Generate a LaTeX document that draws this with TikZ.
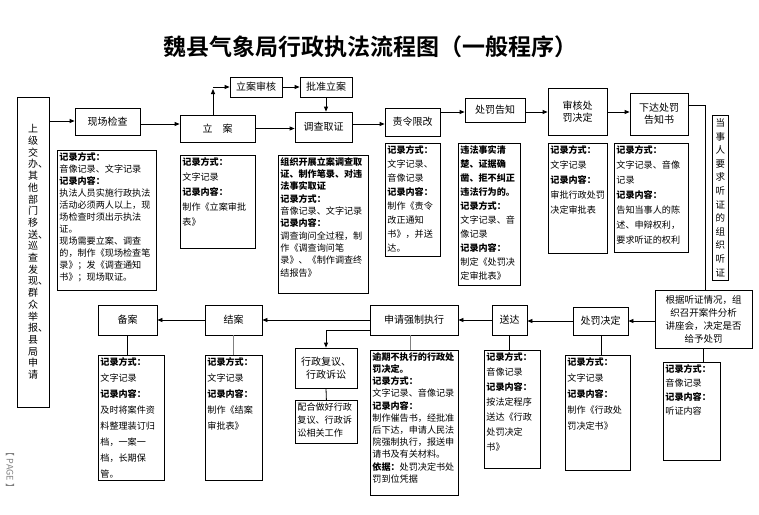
\documentclass[tikz,border=0pt]{standalone}
\usepackage{fontspec}
\setmainfont{Noto Sans CJK SC}
\newfontfamily\titlefont{Noto Sans CJK SC Bold}
\XeTeXlinebreaklocale "zh"
\XeTeXlinebreakskip=0pt plus 1pt
\usetikzlibrary{arrows.meta}
\tikzset{
  bx/.style={draw,thick,inner sep=1pt,align=center,font=\fontsize{10}{12.5}\selectfont},
  rc/.style={draw,thick,inner sep=2pt,anchor=north west},
  arr/.style={thick,-{Triangle[length=5pt,width=4pt]}},
  ln/.style={thick}
}
\newcommand\bx[6]{\node[bx,minimum width=#4pt,minimum height=#5pt] (#1) at ({#2+#4/2},{-#3-#5/2}) {#6};}
\newcommand\rc[7]{\node[rc] (#1) at (#2,-#3) {\fontsize{9.1}{#6}\selectfont\parbox[t][\dimexpr#5pt-4pt][t]{\dimexpr#4pt-4pt}{\raggedright #7}};}
\begin{document}
\begin{tikzpicture}[x=1pt,y=1pt]
\useasboundingbox (0,0) rectangle (759,-514);
\node[font=\titlefont\fontsize{23}{26}\selectfont] (title) at (370,-47) {魏县气象局行政执法流程图（一般程序）};
\node[bx,minimum width=32pt,minimum height=310pt,text width=10pt,font=\fontsize{10}{11.7}\selectfont] (src) at (33,-252) {上级交办、其他部门移送、巡查发现、群众举报、县局申请};
\bx{xc}{75}{108}{65}{27}{现场检查}
\bx{la}{180}{115}{75}{27}{立\quad 案}
\bx{lash}{230}{77}{52}{20}{立案审核}
\bx{pz}{300}{77}{52}{20}{批准立案}
\bx{dc}{295}{112}{57}{30}{调查取证}
\bx{zl}{385}{108}{55}{28}{责令限改}
\bx{gz}{465}{98}{60}{24}{处罚告知}
\bx{sh}{548}{88}{59}{47}{审核处\\罚决定}
\bx{xd}{630}{93}{58}{42}{下达处罚\\告知书}
\node[bx,minimum width=16pt,minimum height=165pt,text width=9pt,font=\fontsize{9.5}{13.6}\selectfont] (tz) at (720,-197.5) {当事人要求听证的组织听证};
\node[bx,minimum width=97pt,minimum height=58pt,font=\fontsize{9.5}{13}\selectfont] (gj) at (703.5,-319) {根据听证情况，组\\织召开案件分析\\讲座会，决定是否\\给予处罚};
\bx{cf}{573}{307}{55}{28}{处罚决定}
\bx{sd}{492}{305}{35}{30}{送达}
\bx{sq}{370}{305}{88}{30}{申请强制执行}
\bx{ja}{205}{305}{57}{30}{结案}
\bx{ba}{98}{305}{59}{30}{备案}
\bx{fy}{295}{348}{62}{40}{行政复议、\\行政诉讼}
\rc{r1}{57}{150}{99}{140}{12}{\textbf{记录方式：}\\音像记录、文字记录\\\textbf{记录内容：}\\执法人员实施行政执法活动必须两人以上，现场检查时须出示执法证。\\现场需要立案、调查的，制作《现场检查笔录》；发《调查通知书》；现场取证。}
\rc{r2}{180}{155}{75}{93}{15}{\textbf{记录方式：}\\文字记录\\\textbf{记录内容：}\\制作《立案审批表》}
\rc{r3}{278}{155}{90}{138}{12.3}{\textbf{组织开展立案调查取证、制作笔录、对违法事实取证}\\\textbf{记录方式：}\\音像记录、文字记录\\\textbf{记录内容：}\\调查询问全过程，制作《调查询问笔录》、《制作调查终结报告》}
\rc{r4}{385}{143}{55}{113}{14}{\textbf{记录方式：}\\文字记录、音像记录\\\textbf{记录内容：}\\制作《责令改正通知书》，并送达。}
\rc{r5}{458}{143}{62}{142}{14}{\textbf{违法事实清楚、证据确凿、拒不纠正违法行为的。}\\\textbf{记录方式：}\\文字记录、音像记录\\\textbf{记录内容：}\\制定《处罚决定审批表》}
\rc{r6}{548}{143}{59}{110}{15}{\textbf{记录方式：}\\文字记录\\\textbf{记录内容：}\\审批行政处罚决定审批表}
\rc{r7}{614}{143}{74}{109}{15}{\textbf{记录方式：}\\文字记录、音像记录\\\textbf{记录内容：}\\告知当事人的陈述、申辩权利，要求听证的权利}
\rc{r8}{98}{355}{66}{125}{16}{\textbf{记录方式：}\\文字记录\\\textbf{记录内容：}\\及时将案件资料整理装订归档，一案一档，长期保管。}
\rc{r9}{205}{355}{57}{125}{16}{\textbf{记录方式：}\\文字记录\\\textbf{记录内容：}\\制作《结案审批表》}
\rc{r10}{370}{350}{88}{145}{12.2}{\textbf{逾期不执行的行政处罚决定。}\\\textbf{记录方式：}\\文字记录、音像记录\\\textbf{记录内容：}\\制作催告书，经批准后下达，申请人民法院强制执行，报送申请书及有关材料。\\\textbf{依据：}处罚决定书处罚到位凭据}
\rc{r11}{484}{350}{56}{118}{15}{\textbf{记录方式：}\\音像记录\\\textbf{记录内容：}\\按法定程序送达《行政处罚决定书》}
\rc{r12}{565}{355}{65}{115}{16}{\textbf{记录方式：}\\文字记录\\\textbf{记录内容：}\\制作《行政处罚决定书》}
\rc{r13}{663}{362}{57}{98}{14}{\textbf{记录方式：}\\音像记录\\\textbf{记录内容：}\\听证内容}
\rc{r14}{295}{400}{62}{43}{13}{配合做好行政复议、行政诉讼相关工作}
\draw[arr] (src.east |- 0,-121) -- (xc.west |- 0,-121);
\draw[arr] (xc.east |- 0,-124) -- (la.west |- 0,-124);
\draw[arr] (la.north -| 213,0) -- (213,-89);
\coordinate (c1) at (213,-87);
\draw[arr] (c1) -- (lash.west);
\draw[arr] (lash.east) -- (pz.west);
\draw[arr] (pz.south) -- (pz.south |- dc.north);
\draw[arr] (la.east) -- (dc.west |- la.east);
\draw[arr] (dc.east |- 0,-124) -- (zl.west |- 0,-124);
\draw[arr] (zl.east |- 0,-112) -- (gz.west |- 0,-112);
\draw[arr] (gz.east |- 0,-112) -- (sh.west |- 0,-112);
\draw[arr] (sh.east |- 0,-112) -- (xd.west |- 0,-112);
\draw[ln] (xd.east |- 0,-105) -- (705,-105) -- (gj.north -| 705,0);
\draw[arr] (gj.west |- cf.west) -- (cf.east);
\draw[arr] (cf.west) -- (sd.east |- cf.west);
\draw[arr] (sd.west) -- (sq.east);
\draw[arr] (sq.west) -- (ja.east);
\draw[arr] (ja.west) -- (ba.east);
\draw[arr] (sq.west |- 0,-330) -- (326,-330) -- (fy.north -| 326,0);
\draw[ln] (ba.south -| 127,0) -- (r8.north -| 127,0);
\draw[ln,gray] (ja.south) -- (ja.south |- r9.north);
\draw[ln,gray] (sq.south -| 410,0) -- (r10.north -| 410,0);
\draw[ln] (sd.south) -- (sd.south |- r11.north);
\draw[ln] (cf.south -| 601,0) -- (r12.north -| 601,0);
\draw[ln] (gj.south -| 703,0) -- (r13.north -| 703,0);
\draw[ln] (fy.south) -- (r14.north);
\node[rotate=-90,gray,font=\fontsize{9}{10}\selectfont] (pg) at (10,-470) {【 PAGE 】};
\end{tikzpicture}
\end{document}
